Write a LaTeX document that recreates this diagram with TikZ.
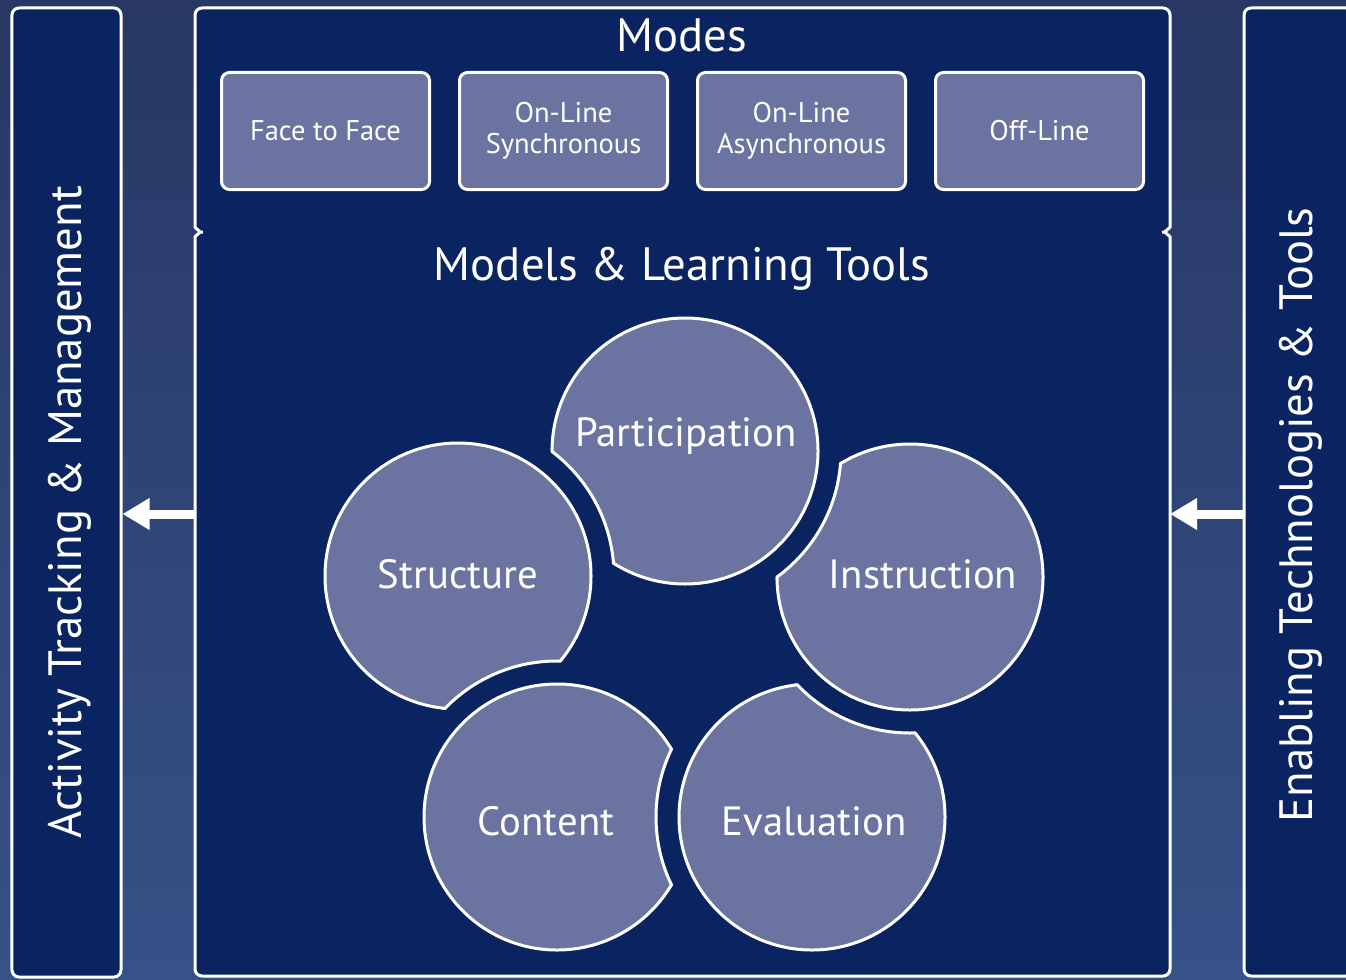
\documentclass[tikz,border=0pt]{standalone}
\usepackage{fontspec}
\setmainfont{PT Sans}
\usepackage{tikz}
\usetikzlibrary{arrows.meta,positioning}
\usepackage{xcolor}
\definecolor{navy}{RGB}{10,36,98}
\definecolor{slate}{RGB}{107,116,160}
\definecolor{bgtop}{RGB}{40,55,100}
\definecolor{bgbot}{RGB}{54,82,136}
\tikzstyle{panel} = [draw=white, line width=0.03cm, fill=navy, rounded corners=0.07cm]
\tikzstyle{modebox} = [draw=white, line width=0.03cm, fill=slate, rounded corners=0.08cm, minimum width=2.08cm, minimum height=1.17cm, align=center, text=white, font=\fontsize{8.1}{8.9}\selectfont]
\tikzstyle{title} = [text=white, font=\fontsize{13.3}{15}\selectfont]
\tikzstyle{ptext} = [text=white, font=\fontsize{11.6}{13}\selectfont]
\tikzstyle{petal} = [draw=white, line width=0.03cm, fill=slate]
\tikzstyle{flow} = [white, line width=0.09cm, -{Triangle[length=0.27cm,width=0.30cm]}]

\begin{document}
\begin{tikzpicture}
\useasboundingbox (0,0) rectangle (13.46,-9.79);
\shade[top color=bgtop, bottom color=bgbot] (0,0) rectangle (13.46,-9.79);

% side panels
\node[panel, minimum width=9.69cm, minimum height=1.09cm, rotate=90] (track) at (0.665,-4.925) {};
\node[panel, minimum width=9.68cm, minimum height=1.09cm, rotate=90] (tools) at (12.985,-4.92) {};
\node[title, rotate=90] (tracklbl) at (0.70,-5.12) {Activity Tracking \& Management};
\node[title, rotate=90] (toolslbl) at (13.01,-5.15) {Enabling Technologies \& Tools};

% middle frame, with a small brace tip on each side
\draw[panel] (1.95,-0.08) -- (11.70,-0.08) -- (11.70,-2.20)
  .. controls (11.70,-2.28) and (11.64,-2.32) .. (11.58,-2.32)
  .. controls (11.64,-2.32) and (11.70,-2.36) .. (11.70,-2.44)
  -- (11.70,-9.76) -- (1.95,-9.76) -- (1.95,-2.44)
  .. controls (1.95,-2.36) and (2.01,-2.32) .. (2.07,-2.32)
  .. controls (2.01,-2.32) and (1.95,-2.28) .. (1.95,-2.20) -- cycle;
\coordinate (fl) at (1.95,-5.14);
\coordinate (fr) at (11.70,-5.14);

% modes
\node[title] (modes) at (6.82,-0.35) {Modes};
\node[modebox] (f2f) at (3.255,-1.31) {Face to Face};
\node[modebox, right=0.27cm of f2f] (sync) {On-Line\\Synchronous};
\node[modebox, right=0.27cm of sync] (async) {On-Line\\Asynchronous};
\node[modebox, right=0.27cm of async] (offl) {Off-Line};

% models and learning tools
\node[title] (models) at (6.82,-2.69) {Models \& Learning Tools};

\coordinate (part) at (6.85,-4.51);
\coordinate (inst) at (9.10,-5.77);
\coordinate (eval) at (8.12,-8.17);
\coordinate (cont) at (5.57,-8.17);
\coordinate (strc) at (4.58,-5.76);

% each circle is bitten by the one before it
\foreach \c/\p in {part/strc, inst/part, eval/inst, cont/eval, strc/cont} {
  \begin{scope}
    \clip (0,0) -- (14,0) -- (14,-10) -- (0,-10) -- cycle
      (\p) ++(1.56,0) arc[start angle=0, end angle=360, radius=1.56];
    \draw[petal] (\c) circle (1.33);
  \end{scope}
  \begin{scope}
    \clip (\c) circle (1.345);
    \draw[white, line width=0.03cm] (\p) circle (1.56);
  \end{scope}
}

\node[ptext] (tpart) at (6.86,-4.36) {Participation};
\node[ptext] (tinst) at (9.23,-5.74) {Instruction};
\node[ptext] (teval) at (8.14,-8.21) {Evaluation};
\node[ptext] (tcont) at (5.46,-8.21) {Content};
\node[ptext] (tstrc) at (4.58,-5.74) {Structure};

% arrows out to the side panels
\draw[flow] (fl) -- (track.south |- fl);
\draw[flow] (tools.north |- fr) -- (fr);
\end{tikzpicture}
\end{document}
